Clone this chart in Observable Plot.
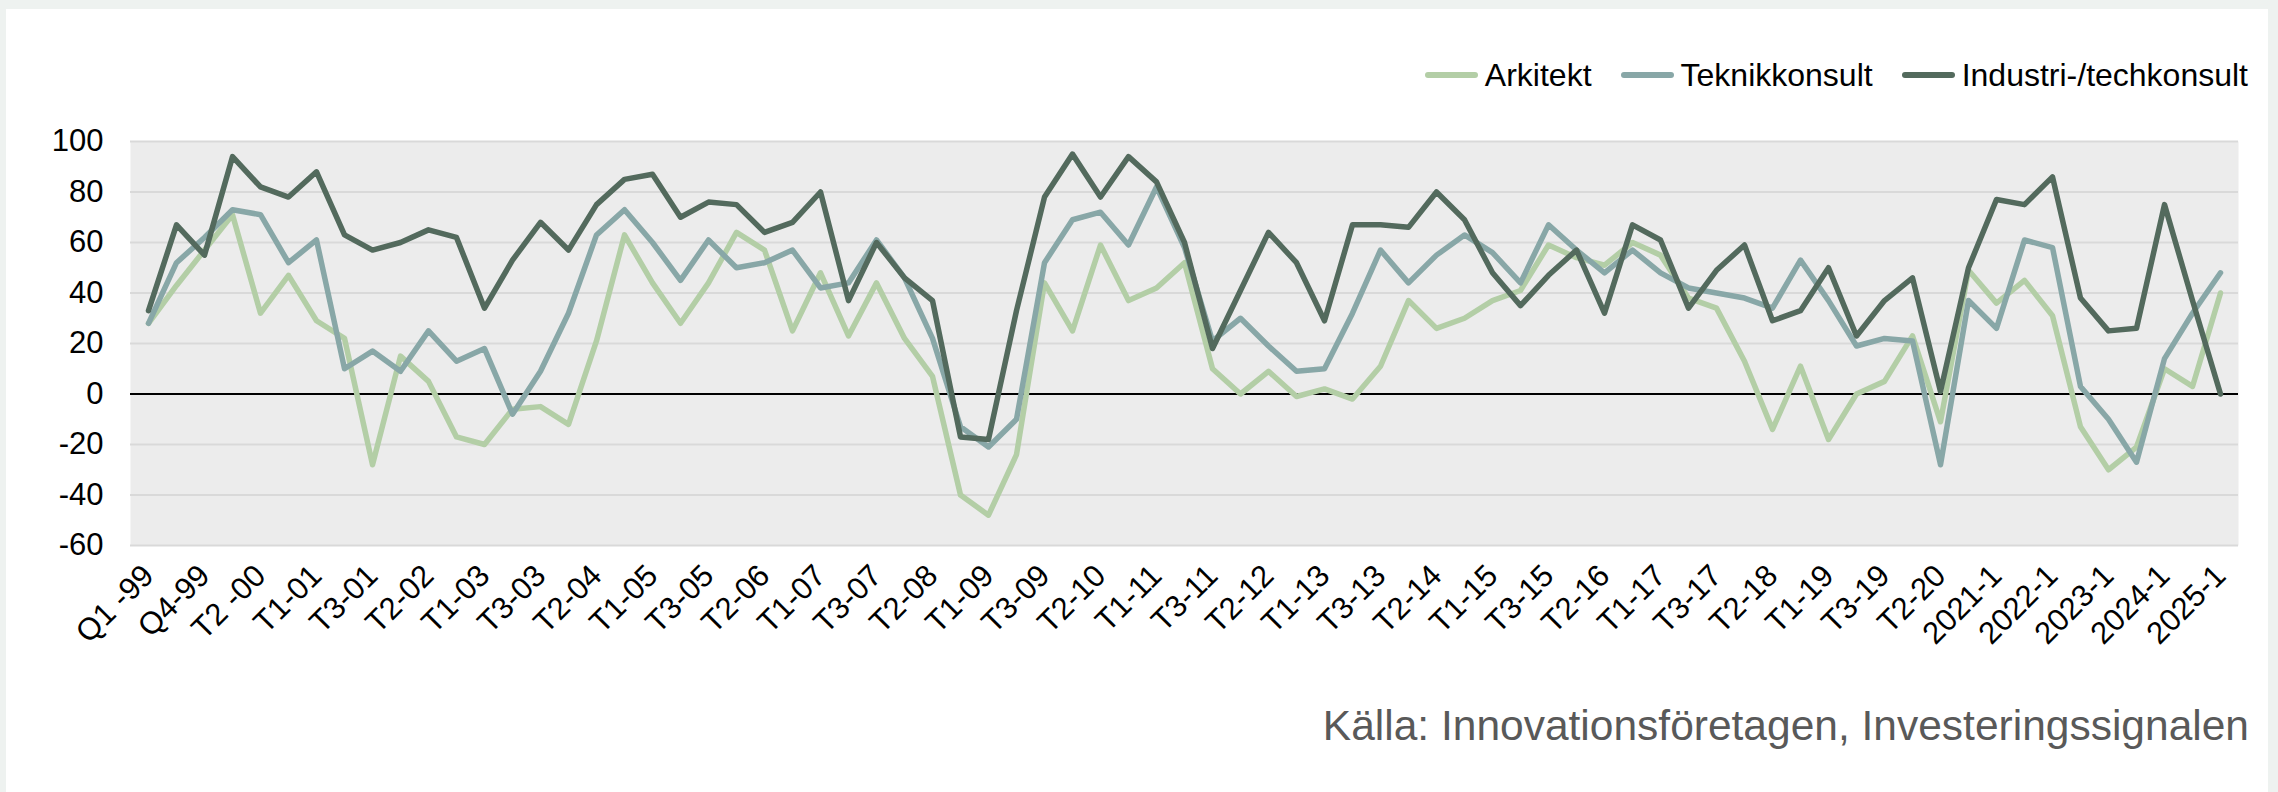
<!DOCTYPE html>
<html>
<head>
<meta charset="utf-8">
<script src="https://cdn.jsdelivr.net/npm/d3@7"></script>
<script src="https://cdn.jsdelivr.net/npm/@observablehq/plot@0.6"></script>
<style>
  html, body { margin: 0; padding: 0; }
  body { width: 2278px; height: 792px; background: #eef2f0; position: relative; overflow: hidden;
         font-family: "Liberation Sans", Arial, sans-serif; }
  #panel { position: absolute; left: 6px; top: 9px; width: 2262px; height: 783px; background: #ffffff; }
  #chart { position: absolute; left: 0; top: 0; }
  #legend { position: absolute; right: 30px; top: 59px; display: flex; align-items: center;
            font-size: 32px; line-height: 32px; color: #000; }
  .item { display: flex; align-items: center; margin-left: 29px; }
  .sw { width: 53px; height: 6px; border-radius: 3px; margin-right: 7px; }
  #caption { position: absolute; right: 29px; top: 705px; font-size: 42.5px; line-height: 42px; color: #595959; }
</style>
</head>
<body>
<div id="panel"></div>
<div id="chart"></div>
<div id="legend"></div>
<div id="caption">Källa: Innovationsföretagen, Investeringssignalen</div>
<script>
const categories = [
  "Q1 -99","Q3-99","Q4-99","T1-00","T2 -00","T3-00",
  "T1-01","T2-01","T3-01","T1-02","T2-02","T3-02","T1-03","T2-03","T3-03",
  "T1-04","T2-04","T3-04","T1-05","T2-05","T3-05","T1-06","T2-06","T3-06",
  "T1-07","T2-07","T3-07","T1-08","T2-08","T3-08","T1-09","T2-09","T3-09",
  "T1-10","T2-10","T3-10","T1-11","T2-11","T3-11","T1-12","T2-12","T3-12",
  "T1-13","T2-13","T3-13","T1-14","T2-14","T3-14","T1-15","T2-15","T3-15",
  "T1-16","T2-16","T3-16","T1-17","T2-17","T3-17","T1-18","T2-18","T3-18",
  "T1-19","T2-19","T3-19","T1-20","T2-20","T3-20",
  "2021-1","2021-2","2022-1","2022-2","2023-1","2023-2","2024-1","2024-2","2025-1"
];

const xTickLabels = [
  "Q1 -99","Q4-99","T2 -00","T1-01","T3-01","T2-02","T1-03","T3-03","T2-04","T1-05",
  "T3-05","T2-06","T1-07","T3-07","T2-08","T1-09","T3-09","T2-10","T1-11","T3-11",
  "T2-12","T1-13","T3-13","T2-14","T1-15","T3-15","T2-16","T1-17","T3-17","T2-18",
  "T1-19","T3-19","T2-20","2021-1","2022-1","2023-1","2024-1","2025-1"
];

const yTicks = [-60, -40, -20, 0, 20, 40, 60, 80, 100];

const arkitekt = [
  28, 43, 57, 71, 32, 47, 29, 22, -28, 15, 5, -17, -20, -6, -5,
  -12, 21, 63, 44, 28, 44, 64, 57, 25, 48, 23, 44, 22, 7, -40,
  -48, -24, 44, 25, 59, 37, 42, 52, 10, 0, 9, -1, 2, -2, 11,
  37, 26, 30, 37, 41, 59, 54, 51, 60, 55, 38, 34, 13, -14, 11,
  -18, 0, 5, 23, -11, 49, 36, 45, 31, -13, -30, -21, 10, 3, 40
];

const teknikkonsult = [
  28, 52, 62, 73, 71, 52, 61, 10, 17, 9, 25, 13, 18, -8, 9,
  32, 63, 73, 60, 45, 61, 50, 52, 57, 42, 44, 61, 46, 22, -13,
  -21, -10, 52, 69, 72, 59, 82, 58, 21, 30, 19, 9, 10, 32, 57,
  44, 55, 63, 56, 44, 67, 57, 48, 57, 48, 42, 40, 38, 34, 53,
  37, 19, 22, 21, -28, 37, 26, 61, 58, 3, -10, -27, 14, 32, 48
];

const industri = [
  33, 67, 55, 94, 82, 78, 88, 63, 57, 60, 65, 62, 34, 53, 68,
  57, 75, 85, 87, 70, 76, 75, 64, 68, 80, 37, 60, 46, 37, -17,
  -18, 33, 78, 95, 78, 94, 84, 60, 18, 41, 64, 52, 29, 67, 67,
  66, 80, 69, 48, 35, 47, 57, 32, 67, 61, 34, 49, 59, 29, 33,
  50, 23, 37, 46, 1, 50, 77, 75, 86, 38, 25, 26, 75, 37, 0
];

const seriesNames = ["Arkitekt", "Teknikkonsult", "Industri-/techkonsult"];
const seriesColors = ["#b3cea6", "#88a7a7", "#536a5d"];
const seriesValues = [arkitekt, teknikkonsult, industri];

const rows = [];
seriesNames.forEach((name, s) => {
  categories.forEach((cat, i) => {
    rows.push({series: name, cat, value: seriesValues[s][i]});
  });
});

const chart = Plot.plot({
  width: 2278,
  height: 660,
  marginLeft: 130,
  marginRight: 40,
  marginTop: 141,
  marginBottom: 115,
  style: {fontFamily: "'Liberation Sans', Arial, sans-serif", color: "#000", background: "transparent"},
  x: {type: "point", domain: categories, padding: 0.5},
  y: {domain: [-60, 100]},
  color: {domain: seriesNames, range: seriesColors},
  marks: [
    Plot.frame({fill: "#ececec", stroke: "none"}),
    Plot.ruleY(yTicks, {stroke: "#d9d9d9", strokeWidth: 2}),
    Plot.ruleY([0], {stroke: "#000", strokeWidth: 2.2}),
    Plot.lineY(rows, {x: "cat", y: "value", z: "series", stroke: "series",
      strokeWidth: 5.5, strokeLinejoin: "round", strokeLinecap: "round"}),
    Plot.axisY({ticks: yTicks, tickSize: 0, tickPadding: 27, tickFormat: d => String(d),
      fontSize: 31, label: null}),
    Plot.axisX({ticks: xTickLabels, tickSize: 0, tickRotate: -45, tickPadding: 25,
      fontSize: 31, label: null})
  ]
});
document.getElementById("chart").appendChild(chart);

const legend = document.getElementById("legend");
seriesNames.forEach((name, i) => {
  const item = document.createElement("div");
  item.className = "item";
  const sw = document.createElement("div");
  sw.className = "sw";
  sw.style.background = seriesColors[i];
  const t = document.createElement("span");
  t.textContent = name;
  item.appendChild(sw);
  item.appendChild(t);
  legend.appendChild(item);
});
</script>
</body>
</html>
